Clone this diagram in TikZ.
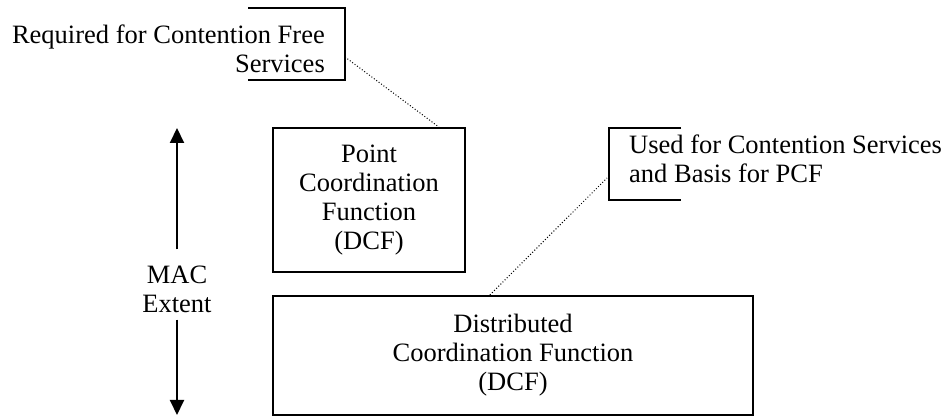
\documentclass[tikz,border=0pt]{standalone}
\usepackage{fontspec}
\setmainfont{Liberation Serif}
\usetikzlibrary{arrows.meta,calc}
\begin{document}
\begin{tikzpicture}[x=1pt,y=1pt,
  every node/.style={font=\fontsize{26.5}{29}\selectfont},
  fnbox/.style={draw,line width=2pt,align=center,inner sep=0pt},
  note/.style={inner sep=0pt},
  bracket/.style={line width=2pt},
  link/.style={line width=1pt,dash pattern=on 1pt off 2pt},
  extent/.style={line width=2pt,-{Triangle[length=15pt,width=14pt]}}]
\useasboundingbox (0,0) rectangle (947,417);

% function boxes
\node[fnbox,minimum width=192pt,minimum height=144pt] (pcf) at (369,217)
  {Point\\Coordination\\Function\\(DCF)};
\node[fnbox,minimum width=480pt,minimum height=119pt] (dcf) at (513,61.5)
  {Distributed\\Coordination Function\\(DCF)};

% note on the PCF
\node[note,anchor=north east,align=right] (req) at (325,392.3)
  {Required for Contention Free\\Services};
\coordinate (rqa) at (248,409);
\coordinate (rqb) at (345,409);
\coordinate (rqc) at (345,337);
\coordinate (rqd) at (248,337);
\draw[bracket] (rqa) -- (rqb) -- (rqc) -- (rqd);
\coordinate (rqlink) at (345,360);
\draw[link] (rqlink) -- ($(pcf.north west)!0.86!(pcf.north east)$);

% note on the DCF
\node[note,anchor=north west,align=left] (used) at (629,282.3)
  {Used for Contention Services\\and Basis for PCF};
\coordinate (usa) at (681,289);
\coordinate (usb) at (609,289);
\coordinate (usc) at (609,217);
\coordinate (usd) at (681,217);
\draw[bracket] (usa) -- (usb) -- (usc) -- (usd);
\coordinate (uslink) at (607,239);
\draw[link] ($(dcf.north west)!0.452!(dcf.north east)$) -- (uslink);

% MAC extent arrow
\node[note,align=center] (mac) at (177,128) {MAC\\Extent};
\coordinate (mactop) at (177,289);
\coordinate (macbot) at (177,2);
\draw[extent,shorten <=16pt] (mac.north) -- (mactop);
\draw[extent,shorten <=7pt] (mac.south) -- (macbot);
\end{tikzpicture}
\end{document}
